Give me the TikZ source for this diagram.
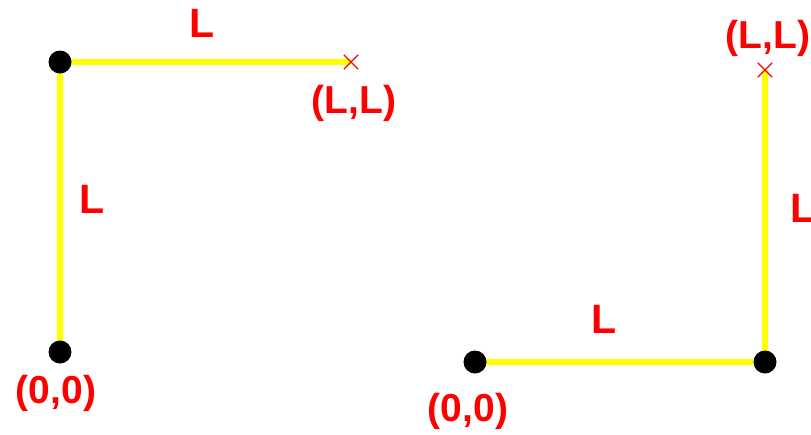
\documentclass[tikz,border=0pt]{standalone}
\usepackage{fontspec}
\setmainfont{Liberation Sans}
\usetikzlibrary{shapes.misc}
\definecolor{lblred}{RGB}{255,0,0}
\definecolor{segyellow}{RGB}{255,255,0}
\tikzset{
  seg/.style={draw=segyellow, line width=5.5pt},
  pt/.style={circle, fill=black, minimum size=23pt, inner sep=0pt},
  endmark/.style={cross out, draw=lblred, line width=1.3pt, minimum size=13pt, inner sep=0pt},
  lenlbl/.style={text=lblred, inner sep=0pt, font=\fontsize{41}{41}\selectfont\bfseries},
  coordlbl/.style={text=lblred, inner sep=0pt, font=\fontsize{39}{39}\selectfont\bfseries},
}
\begin{document}
\begin{tikzpicture}[x=1pt, y=-1pt]
\useasboundingbox (0,0) rectangle (811,434);
% left figure
\coordinate (a1) at (60,62);
\coordinate (o1) at (60,352);
\coordinate (e1) at (351,62);
\draw[seg] (o1) -- (a1);
\draw[seg] (a1) -- (e1);
\node[pt] (A1) at (a1) {};
\node[pt] (O1) at (o1) {};
\node[endmark] (X1) at (e1) {};
\node[lenlbl] (Lt) at (202,23) {L};
\node[lenlbl] (Ll) at (92,199) {L};
\node[coordlbl] (LL1) at (354,103) {(L,L)};
\node[coordlbl] (Z1) at (56,393) {(0,0)};
% right figure
\coordinate (o2) at (475,362);
\coordinate (b2) at (765,362);
\coordinate (e2) at (765,70);
\draw[seg] (o2) -- (b2);
\draw[seg] (b2) -- (e2);
\node[pt] (O2) at (o2) {};
\node[pt] (B2) at (b2) {};
\node[endmark] (X2) at (e2) {};
\node[lenlbl] (Lb) at (604,319) {L};
\node[lenlbl] (Lr) at (803,208) {L};
\node[coordlbl] (LL2) at (768,38) {(L,L)};
\node[coordlbl] (Z2) at (468,411) {(0,0)};
\end{tikzpicture}
\end{document}
